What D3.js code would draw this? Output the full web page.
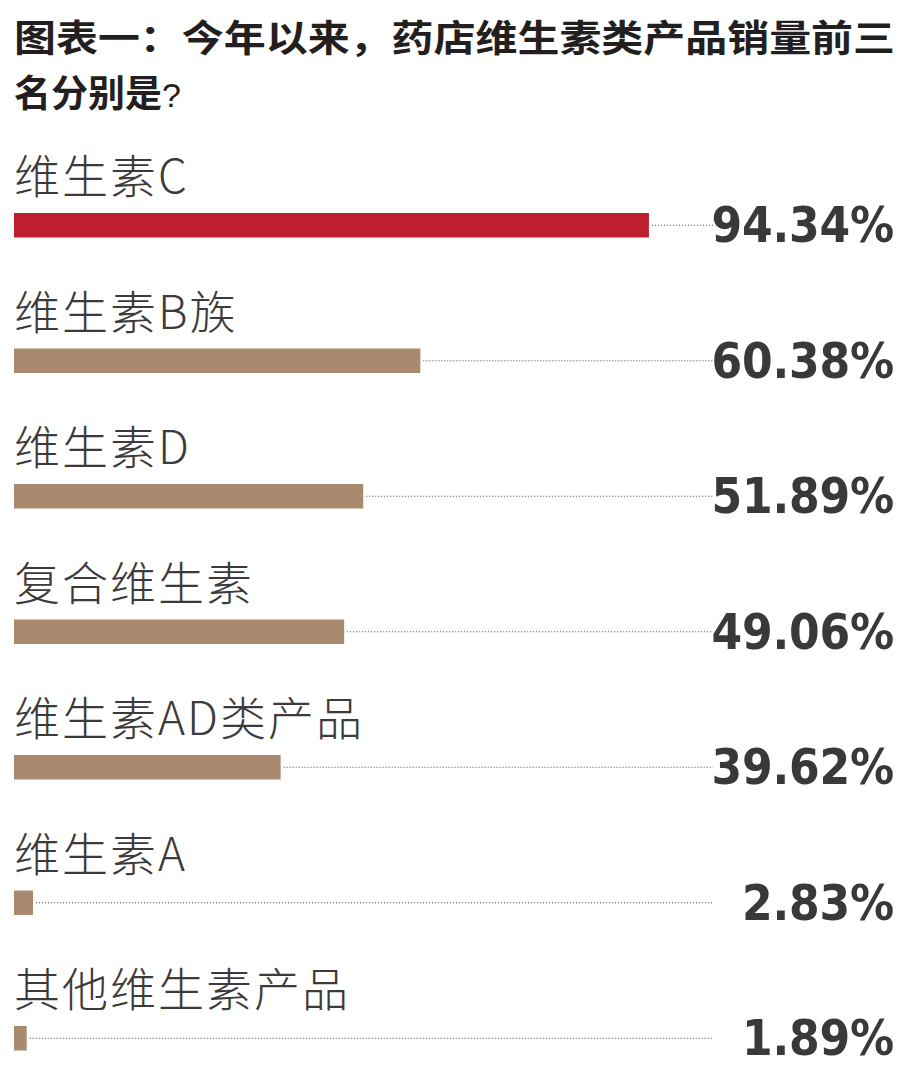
<!DOCTYPE html>
<html>
<head>
<meta charset="utf-8">
<script src="https://cdn.jsdelivr.net/npm/d3@7"></script>
<style>
  html, body { margin: 0; padding: 0; background: #fff; }
</style>
</head>
<body>
<div id="js_chart"></div>
<script>
// data
const titleLines = ["图表一：今年以来，药店维生素类产品销量前三", "名分别是"];
const categories = ["维生素C", "维生素B族", "维生素D", "复合维生素", "维生素AD类产品", "维生素A", "其他维生素产品"];
const values = [94.34, 60.38, 51.89, 49.06, 39.62, 2.83, 1.89];
const valueLabels = ["94.34%", "60.38%", "51.89%", "49.06%", "39.62%", "2.83%", "1.89%"];

const width = 913, height = 1069;
const barH = 24.5;
const dotEnd = 713;

const svg = d3.select("#js_chart")
    .append("svg")
    .attr("width", width)
    .attr("height", height);

let x = d3.scaleLinear()
    .domain([0, 100])
    .range([14, 14 + 673]);

let y = d3.scalePoint()
    .domain(categories)
    .range([213, 213 + 6 * 135.5]);

// title
svg.append("text")
    .attr("x", 14).attr("y", 52)
    .attr("font-family", "'Noto Sans CJK SC', sans-serif")
    .attr("font-weight", 700)
    .attr("font-size", 37)
    .attr("fill", "#231f20")
    .attr("textLength", 881)
    .attr("lengthAdjust", "spacingAndGlyphs")
    .text(titleLines[0]);

const t2 = svg.append("text")
    .attr("x", 14).attr("y", 107)
    .attr("font-family", "'Noto Sans CJK SC', sans-serif")
    .attr("font-weight", 700)
    .attr("font-size", 37)
    .attr("fill", "#231f20")
    .text(titleLines[1]);
t2.append("tspan")
    .attr("font-family", "'Liberation Sans', sans-serif")
    .attr("font-weight", 400)
    .attr("font-size", 34)
    .text("?");

const rows = svg.append("g")
    .selectAll("g")
    .data(categories)
    .enter()
    .append("g");

// category labels
rows.append("text")
    .attr("x", 14)
    .attr("y", d => y(d) - 20)
    .attr("font-family", "'Noto Sans CJK SC', sans-serif")
    .attr("font-weight", 300)
    .attr("font-size", 46)
    .attr("letter-spacing", 2)
    .attr("fill", "#3c3a3b")
    .text(d => d);

// dotted leader lines
rows.append("line")
    .attr("x1", (d, i) => x(values[i]) + 3)
    .attr("x2", dotEnd)
    .attr("y1", d => y(d) + barH / 2)
    .attr("y2", d => y(d) + barH / 2)
    .attr("stroke", "#444")
    .attr("stroke-width", 1)
    .attr("stroke-dasharray", "1,2");

// bars
rows.append("rect")
    .attr("x", x(0))
    .attr("y", d => y(d))
    .attr("width", (d, i) => x(values[i]) - x(0))
    .attr("height", barH)
    .attr("fill", (d, i) => i === 0 ? "#be1e2d" : "#a98a6e");

// value labels
rows.append("text")
    .attr("x", 894)
    .attr("y", d => y(d) + 29)
    .attr("text-anchor", "end")
    .attr("font-family", "'DejaVu Sans Condensed', 'DejaVu Sans', sans-serif")
    .attr("font-stretch", "condensed")
    .attr("font-weight", 700)
    .attr("font-size", 49)
    .attr("letter-spacing", -0.2)
    .attr("fill", "#3b3839")
    .text((d, i) => valueLabels[i]);
</script>
</body>
</html>
